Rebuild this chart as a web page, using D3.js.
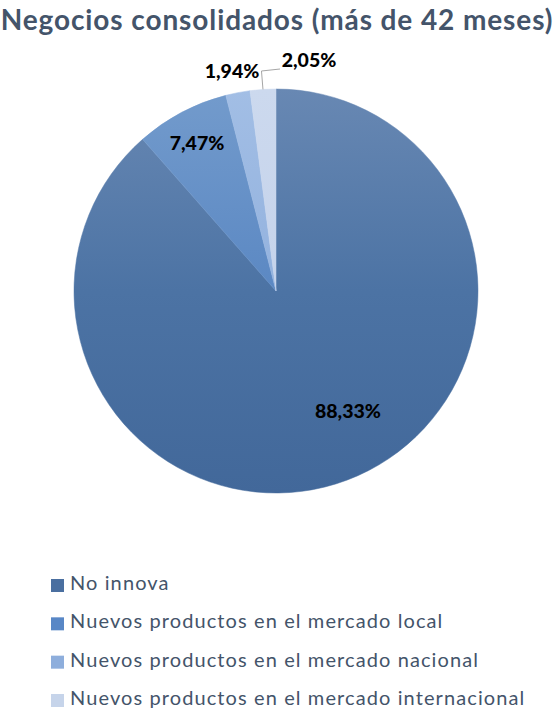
<!DOCTYPE html>
<html><head><meta charset="utf-8">
<script src="https://cdn.jsdelivr.net/npm/d3@7"></script>
<style>body{margin:0;background:#fff}svg{display:block}</style>
</head><body>
<svg id="c" width="554" height="714"></svg>
<script>
const categories = ["No innova","Nuevos productos en el mercado local","Nuevos productos en el mercado nacional","Nuevos productos en el mercado internacional"];
const values = [88.33, 7.47, 1.94, 2.05];
const labels = ["88,33%","7,47%","1,94%","2,05%"];
const colorsTop = ["#6888b3","#739bcc","#a2bee5","#ccd9ee"];
const colorsMid = ["#4c73a4","#5b88c3","#93b2de","#c5d3eb"];
const colorsBot = ["#42689a","#4f7db9","#87a8d8","#bccce8"];
const legendColors = ["#4a6fa0","#5887c6","#8eaedc","#c6d4ea"];

const svg = d3.select("#c");
const font = "Lato, 'Open Sans', sans-serif";
const cx = 276, cy = 291, r = 202;

const defs = svg.append("defs");
categories.forEach((c,i)=>{
  const g = defs.append("linearGradient").attr("id","g"+i)
    .attr("gradientUnits","userSpaceOnUse")
    .attr("x1",0).attr("y1",-r).attr("x2",0).attr("y2",r);
  g.append("stop").attr("offset","0%").attr("stop-color",colorsTop[i]);
  g.append("stop").attr("offset","50%").attr("stop-color",colorsMid[i]);
  g.append("stop").attr("offset","100%").attr("stop-color",colorsBot[i]);
});

svg.append("text").attr("x",277).attr("y",30).attr("text-anchor","middle")
  .attr("font-family",font).attr("font-weight","bold").attr("font-size",28)
  .attr("letter-spacing",0.9)
  .attr("fill","#44546a").text("Negocios consolidados (más de 42 meses)");

const pie = d3.pie().sort(null).value(d=>d)(values);
const arc = d3.arc().innerRadius(0).outerRadius(r);
const g = svg.append("g").attr("transform",`translate(${cx},${cy})`);
g.selectAll("path").data(pie).join("path")
  .attr("d",arc).attr("fill",(d,i)=>`url(#g${i})`)
  .attr("stroke",(d,i)=>`url(#g${i})`).attr("stroke-width",0.5);

// labels
const labelPos = [[348,413],[197,145],[232,73],[309,62]];
// leader line for last slice
const mid = (pie[3].startAngle+pie[3].endAngle)/2;
const ex = cx + Math.sin(mid)*r, ey = cy - Math.cos(mid)*r;
svg.append("path").attr("d",`M${ex},${ey} L${ex-1.5},${71} L${280},${69}`)
  .attr("fill","none").attr("stroke","#a6a6a6").attr("stroke-width",1);
svg.selectAll("text.lbl").data(labels).join("text").attr("class","lbl")
  .attr("x",(d,i)=>labelPos[i][0]).attr("y",(d,i)=>labelPos[i][1]).attr("text-anchor","middle")
  .attr("dominant-baseline","middle")
  .attr("font-family",font).attr("font-weight","900").attr("font-size",19.5)
  .attr("fill","#000").text(d=>d);

// legend
const leg = svg.append("g");
const ly = d3.scalePoint().domain(categories).range([585,700]);
categories.forEach((c,i)=>{
  leg.append("rect").attr("x",51).attr("y",ly(c)-6).attr("width",13).attr("height",13).attr("fill",legendColors[i]);
  leg.append("text").attr("x",70).attr("y",ly(c)).attr("dominant-baseline","middle")
    .attr("font-family",font).attr("font-size",20).attr("letter-spacing",1.1)
    .attr("fill","#44546a").text(c);
});
</script>
</body></html>
